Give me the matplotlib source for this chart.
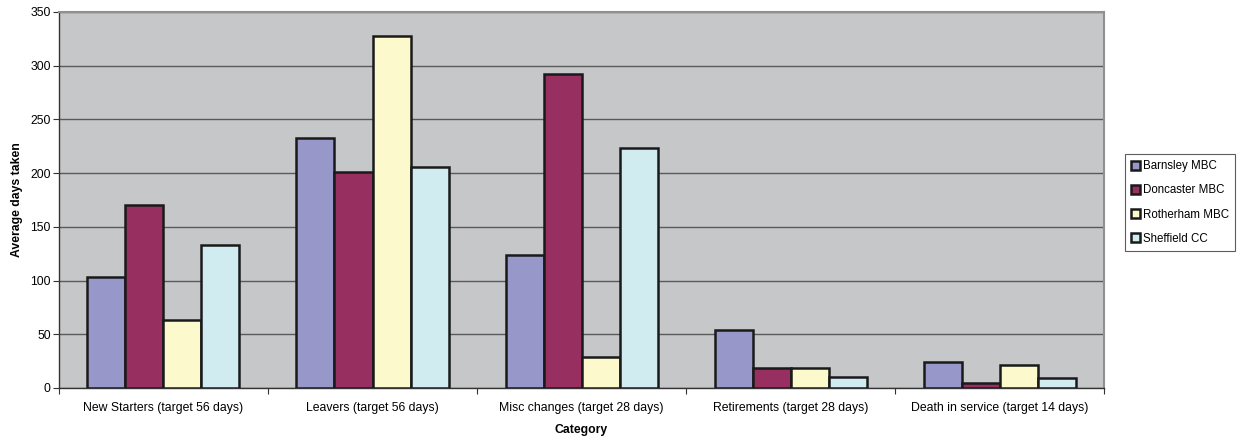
import matplotlib.pyplot as plt
import numpy as np
from matplotlib.patches import Patch

plt.rcParams['font.family'] = ['Liberation Sans', 'DejaVu Sans']

categories = [
    "New Starters (target 56 days)",
    "Leavers (target 56 days)",
    "Misc changes (target 28 days)",
    "Retirements (target 28 days)",
    "Death in service (target 14 days)",
]
series_names = ["Barnsley MBC", "Doncaster MBC", "Rotherham MBC", "Sheffield CC"]
barnsley = [103, 233, 124, 54, 24]
doncaster = [170, 201, 292, 19, 5]
rotherham = [63, 328, 29, 19, 21]
sheffield = [133, 206, 223, 10, 9]
y_ticks = [0, 50, 100, 150, 200, 250, 300, 350]

series_values = [barnsley, doncaster, rotherham, sheffield]
colors = ["#9797C9", "#972F61", "#FCF9CD", "#D0ECF1"]

fig = plt.figure(figsize=(12.42, 4.41), dpi=100)
ax = fig.add_axes([0.0475, 0.1202, 0.8414, 0.8526])
ax.set_facecolor("#C6C7C9")

n = len(categories)
x = np.arange(n)
w = 1 / 5.5
for i, (name, vals, c) in enumerate(zip(series_names, series_values, colors)):
    ax.bar(x + (i - 1.5) * w, vals, width=w, color=c, edgecolor="#1A1A1A",
           linewidth=1.8, label=name, zorder=3)

ax.set_xlim(-0.5, n - 0.5)
ax.set_ylim(0, 350)
ax.set_yticks(y_ticks)
ax.yaxis.grid(True, color="#5A5A5A", linewidth=1.0, zorder=1)
ax.set_axisbelow(True)

ax.set_xticks(x)
ax.set_xticklabels(categories, fontsize=8.8)
ax.set_xticks(np.arange(-0.5, n), minor=True)
ax.tick_params(axis="x", which="major", length=0, pad=10)
ax.tick_params(axis="x", which="minor", length=4, width=0.8, direction="out", color="#333333")
ax.tick_params(axis="y", labelsize=8.8, length=4, width=0.8, color="#333333", pad=2)

for s in ["top", "right"]:
    ax.spines[s].set_color("#909090")
    ax.spines[s].set_linewidth(1.5)
for s in ["left", "bottom"]:
    ax.spines[s].set_color("#333333")
    ax.spines[s].set_linewidth(1.0)

ax.set_ylabel("Average days taken", fontsize=8.8, fontweight="bold", labelpad=5)
ax.set_xlabel("Category", fontsize=8.8, fontweight="bold", labelpad=7)

handles = [Patch(facecolor=c, edgecolor="#1A1A1A", linewidth=1.8) for c in colors]
leg = fig.legend(handles, series_names, loc="upper left",
                 bbox_to_anchor=(1125 / 1242, 1 - 154 / 441),
                 fontsize=8.3, frameon=True, fancybox=False, edgecolor="#333333",
                 handlelength=0.75, handleheight=0.75, handletextpad=0.25,
                 labelspacing=1.05, borderpad=0.55, borderaxespad=0)
leg.get_frame().set_linewidth(0.8)

fig.savefig("out.png", dpi=100)
